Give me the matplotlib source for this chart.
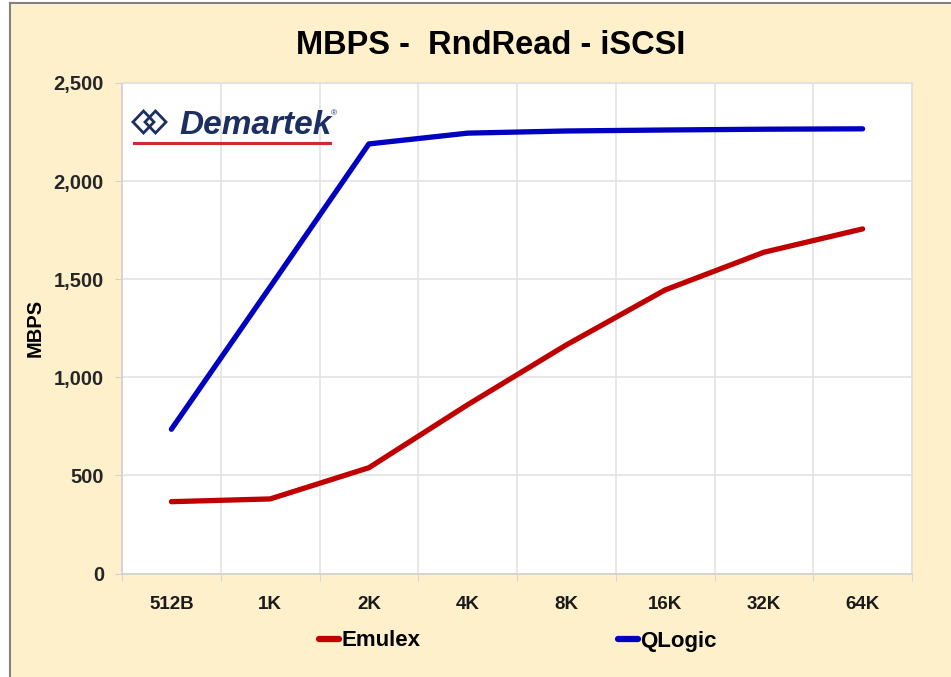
import matplotlib
matplotlib.use("Agg")
import matplotlib.pyplot as plt
from matplotlib.patches import Polygon
from matplotlib.lines import Line2D

categories = ["512B", "1K", "2K", "4K", "8K", "16K", "32K", "64K"]
emulex = [366, 380, 539, 860, 1165, 1445, 1637, 1756]
qlogic = [735, 1460, 2189, 2244, 2255, 2260, 2264, 2266]
yticks = [0, 500, 1000, 1500, 2000, 2500]
ytick_labels = ["0", "500", "1,000", "1,500", "2,000", "2,500"]

W, H = 951, 677
BG = "#FFF0CC"
SANS = ["Liberation Sans", "DejaVu Sans"]

fig = plt.figure(figsize=(W / 100, H / 100), dpi=100, facecolor=BG)

def px(x, y):
    return (x / W, 1 - y / H)

ax = fig.add_axes([122 / W, 1 - 573.5 / H, (912 - 122) / W, (573.5 - 82.9) / H])
ax.set_facecolor("white")

x = list(range(len(categories)))
ax.plot(x, emulex, color="#C00000", lw=3.8, solid_capstyle="round", solid_joinstyle="round", label="Emulex", zorder=3)
ax.plot(x, qlogic, color="#0000C0", lw=3.8, solid_capstyle="round", solid_joinstyle="round", label="QLogic", zorder=3)

ax.set_xlim(-0.5, len(categories) - 0.5)
ax.set_ylim(0, 2500)
ax.set_yticks(yticks)
ax.set_yticklabels(ytick_labels, family=SANS, fontweight="bold", fontsize=14.5, color="#262626")
ax.set_xticks(x)
ax.set_xticklabels(categories, family=SANS, fontweight="bold", fontsize=13.5, color="#1a1a1a")
ax.set_xticks([i - 0.5 for i in range(len(categories) + 1)], minor=True)
ax.tick_params(axis="x", which="major", length=0, pad=16)
ax.tick_params(axis="x", which="minor", length=5, color="#D0D0D0", direction="out")
ax.tick_params(axis="y", length=5, color="#D0D0D0", direction="out", pad=8)
ax.grid(True, axis="y", which="major", color="#E3E3E3", lw=1.2)
ax.grid(True, axis="x", which="minor", color="#E3E3E3", lw=1.2)
ax.set_axisbelow(True)
for s in ["top", "right"]:
    ax.spines[s].set_color("#E0E0E0")
for s in ["left", "bottom"]:
    ax.spines[s].set_color("#D0D0D0")
for s in ax.spines.values():
    s.set_linewidth(1.2)

ax.set_ylabel("MBPS", family=SANS, fontweight="bold", fontsize=14.5, color="black")
ax.yaxis.set_label_coords((45 - 122) / 790, 0.5)

fig.text(*px(491, 45), "MBPS -  RndRead - iSCSI", family=SANS, fontweight="bold",
         fontsize=23.5, ha="center", va="center", color="black")

handles = [Line2D([], [], color="#C00000", lw=4.5, solid_capstyle="round"),
           Line2D([], [], color="#0000C0", lw=4.5, solid_capstyle="round")]
leg = fig.legend(handles, ["Emulex", "QLogic"], loc="center", bbox_to_anchor=px(518, 641),
                 ncol=2, frameon=False, handlelength=0.9, handletextpad=0.1, columnspacing=8.9,
                 prop={"family": SANS, "weight": "bold", "size": 16})

# Demartek logo
navy = "#1B2F63"
for cx in (143.5, 155.5):
    pts = [px(cx - 10.5, 122), px(cx, 111), px(cx + 10.5, 122), px(cx, 133)]
    fig.patches.append(Polygon(pts, closed=True, fill=False, edgecolor=navy, lw=2.0,
                               transform=fig.transFigure))
fig.text(*px(179, 125), "Demartek", family=SANS, fontweight="bold", style="italic",
         fontsize=24, color=navy, ha="left", va="center")
fig.text(*px(331, 114), "®", family=SANS, fontsize=6, color=navy, ha="left", va="center")
fig.lines.append(Line2D([134 / W, 330 / W], [1 - 143 / H, 1 - 143 / H], color="#D02A2A", lw=2.2,
                        transform=fig.transFigure))

# outer border (top and left)
fig.lines.append(Line2D([10 / W, 1], [1 - 3 / H, 1 - 3 / H], color="#808080", lw=1.5, transform=fig.transFigure))
fig.lines.append(Line2D([10 / W, 10 / W], [0, 1 - 3 / H], color="#808080", lw=1.5, transform=fig.transFigure))
fig.patches.append(plt.Rectangle((0, 0), 10 / W, 1, color="white", transform=fig.transFigure, zorder=-1))
fig.patches.append(plt.Rectangle((0, 1 - 3 / H), 1, 3 / H, color="white", transform=fig.transFigure, zorder=-1))

fig.savefig("out.png", dpi=100, facecolor=BG)
